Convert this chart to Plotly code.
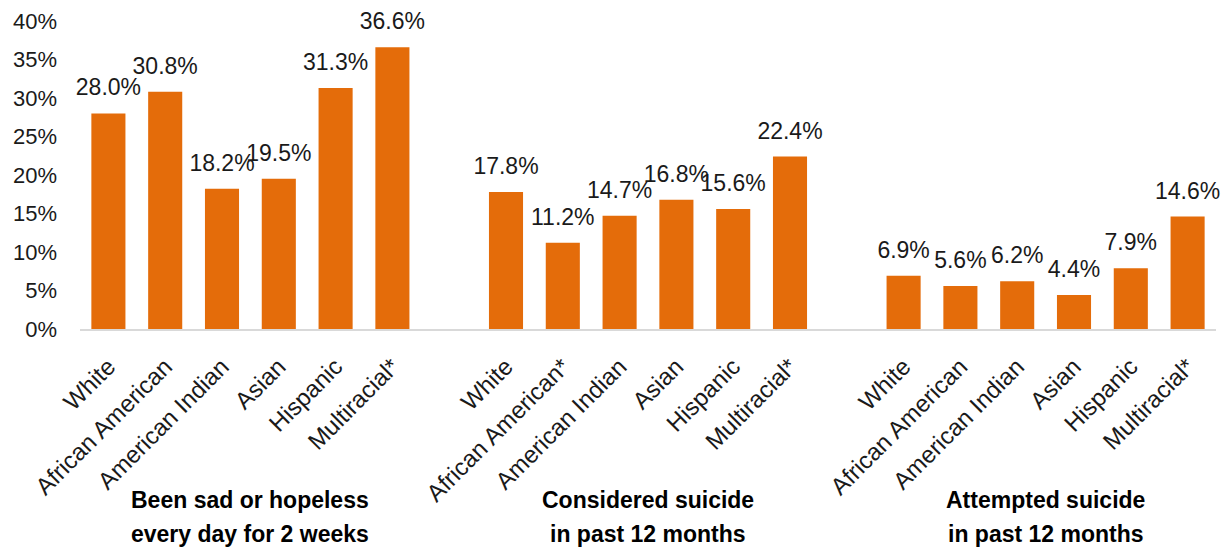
import plotly.graph_objects as go

group_line1 = ["Been sad or hopeless", "Considered suicide", "Attempted suicide"]
group_line2 = ["every day for 2 weeks", "in past 12 months", "in past 12 months"]

cats_sad = ["White", "African American", "American Indian", "Asian", "Hispanic", "Multiracial*"]
cats_cons = ["White", "African American*", "American Indian", "Asian", "Hispanic", "Multiracial*"]
cats_att = ["White", "African American", "American Indian", "Asian", "Hispanic", "Multiracial*"]

vals_sad = [28.0, 30.8, 18.2, 19.5, 31.3, 36.6]
vals_cons = [17.8, 11.2, 14.7, 16.8, 15.6, 22.4]
vals_att = [6.9, 5.6, 6.2, 4.4, 7.9, 14.6]

y_ticks = [0, 5, 10, 15, 20, 25, 30, 35, 40]

all_cats = [cats_sad, cats_cons, cats_att]
all_vals = [vals_sad, vals_cons, vals_att]

FONT = "Liberation Sans"
COLOR = "#E46C0A"
TXT = "#1a1a1a"

xs, ys, labels = [], [], []
pos = 0
centers = []
for cats, vals in zip(all_cats, all_vals):
    start = pos
    for c, v in zip(cats, vals):
        xs.append(pos)
        ys.append(v)
        labels.append(c)
        pos += 1
    centers.append((start + pos - 1) / 2)
    pos += 1  # empty slot between groups
last = pos - 2

fig = go.Figure()
fig.add_trace(go.Bar(
    x=xs, y=ys, width=0.6,
    marker=dict(color=COLOR, line=dict(width=0)),
    hoverinfo="skip",
))
fig.add_trace(go.Scatter(
    x=xs, y=ys, mode="markers+text",
    marker=dict(size=18, opacity=0),
    text=["%.1f%%" % v for v in ys], textposition="top center",
    textfont=dict(family=FONT, size=23, color=TXT),
    cliponaxis=False, hoverinfo="skip",
))

for c, l1, l2 in zip(centers, group_line1, group_line2):
    fig.add_annotation(x=c, xref="x", y=-0.555, yref="paper", text="<b>%s</b>" % l1,
                       showarrow=False, yanchor="middle",
                       font=dict(family=FONT, size=23, color="#000000"))
    fig.add_annotation(x=c, xref="x", y=-0.665, yref="paper", text="<b>%s</b>" % l2,
                       showarrow=False, yanchor="middle",
                       font=dict(family=FONT, size=23, color="#000000"))

fig.update_layout(
    width=1226, height=549,
    margin=dict(l=80, r=10, t=21, b=220),
    plot_bgcolor="white", paper_bgcolor="white",
    showlegend=False,
    font=dict(family=FONT, size=22, color=TXT),
    xaxis=dict(
        range=[-0.5, last + 0.5],
        tickmode="array", tickvals=xs, ticktext=labels,
        tickangle=-45, showline=True, linecolor="#d9d9d9", linewidth=2,
        showgrid=False, zeroline=False, ticks="",
        ticklabelstandoff=12,
        tickfont=dict(family=FONT, size=24, color=TXT),
    ),
    yaxis=dict(
        range=[0, 40], tickmode="array", tickvals=y_ticks,
        ticktext=["%d%%" % t for t in y_ticks],
        showgrid=False, zeroline=False, showline=False,
        ticklabelstandoff=22,
        tickfont=dict(family=FONT, size=22, color=TXT),
    ),
)

fig.write_html("out.html")
